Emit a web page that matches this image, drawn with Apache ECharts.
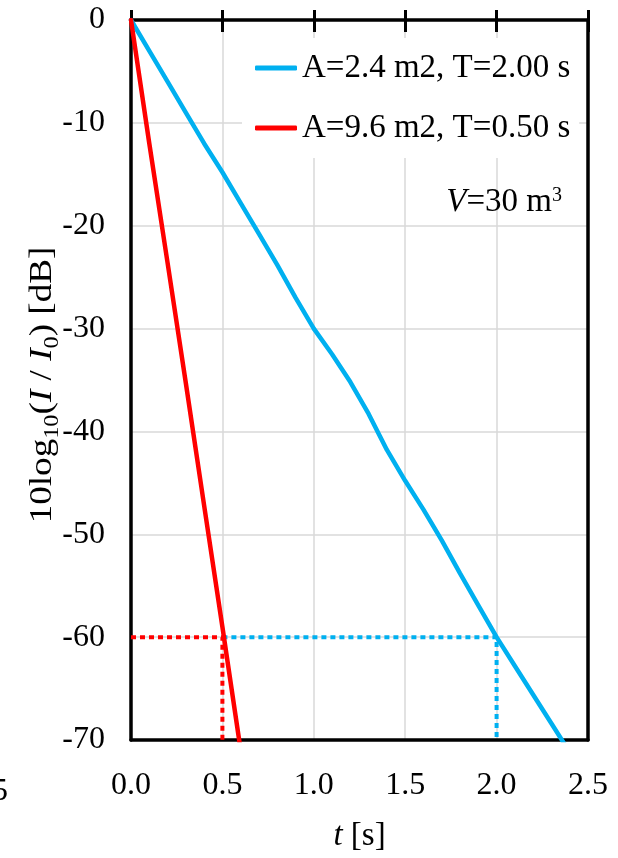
<!DOCTYPE html>
<html>
<head>
<meta charset="utf-8">
<script src="https://cdn.jsdelivr.net/npm/echarts@6/dist/echarts.min.js"></script>
<style>
html,body{margin:0;padding:0;background:#fff;}
#chart{width:618px;height:858px;}
</style>
</head>
<body>
<div id="chart"></div>
<script>
// ---- data ----
const seriesNames = ['A=2.4 m2, T=2.00 s', 'A=9.6 m2, T=0.50 s'];
const tBlue = [0, 0.1, 0.2, 0.3, 0.4, 0.5, 0.6, 0.7, 0.8, 0.9, 1.0, 1.1, 1.2, 1.3, 1.4, 1.5, 1.6, 1.7, 1.8, 1.9, 2.0, 2.1, 2.2, 2.3, 2.4];
const levelBlue = [0, -3.0, -6.0, -9.0, -12.0, -14.8, -17.8, -20.8, -23.8, -27.0, -30.0, -32.5, -35.2, -38.3, -41.8, -44.8, -47.6, -50.6, -53.8, -56.9, -60.0, -62.8, -65.6, -68.4, -71.2];
const tRed = [0, 0.1, 0.2, 0.3, 0.4, 0.5, 0.6];
const levelRed = [0, -12.0, -23.6, -35.3, -47.2, -59.0, -71.0];
const guideRed = [[0, -60], [0.5, -60], [0.5, -70]];
const guideBlue = [[0.5, -60], [2.0, -60], [2.0, -70]];
const xTicks = [0, 0.5, 1.0, 1.5, 2.0, 2.5];
const yTicks = [0, -10, -20, -30, -40, -50, -60, -70];

const FONT = '"Liberation Serif", "Times New Roman", serif';
const BLUE = '#00B0F0';
const RED = '#FF0000';
const GRID = '#d9d9d9';

const zip = (a, b) => a.map((v, i) => [v, b[i]]);

const chart = echarts.init(document.getElementById('chart'));

const xCommon = {
  type: 'value', min: xTicks[0], max: xTicks[xTicks.length - 1], interval: 0.5
};

chart.setOption({
  animation: false,
  backgroundColor: '#fff',
  grid: { left: 131, right: 30, top: 20, bottom: 112 },
  legend: {
    data: seriesNames.map(n => ({ name: n, icon: 'roundRect' })),
    orient: 'vertical',
    left: 242, top: 38,
    padding: [12, 9, 12, 13],
    backgroundColor: '#fff',
    itemGap: 24,
    itemWidth: 42,
    itemHeight: 5,
    textStyle: { fontFamily: FONT, fontSize: 33, color: '#000', lineHeight: 36 }
  },
  xAxis: [
    Object.assign({}, xCommon, {
      position: 'bottom',
      axisLine: { show: true, onZero: false, lineStyle: { color: '#000', width: 3.5 } },
      axisTick: { show: false },
      axisLabel: {
        fontFamily: FONT, fontSize: 32, color: '#000', margin: 30,
        formatter: v => v.toFixed(1)
      },
      splitLine: { show: true, lineStyle: { color: GRID, width: 1.5 } },
      name: '{i|t}{n| [s]}',
      nameLocation: 'middle',
      nameGap: 80,
      nameTextStyle: {
        rich: {
          i: { fontFamily: FONT, fontSize: 33, fontStyle: 'italic', color: '#000' },
          n: { fontFamily: FONT, fontSize: 33, color: '#000' }
        }
      }
    }),
    Object.assign({}, xCommon, {
      position: 'top',
      axisLine: { show: true, onZero: false, lineStyle: { color: '#000', width: 3.5 } },
      axisTick: { show: true, inside: true, length: 12, lineStyle: { color: '#000', width: 3 } },
      axisLabel: { show: false },
      splitLine: { show: false }
    }),
    Object.assign({}, xCommon, {
      position: 'top',
      axisLine: { show: false, onZero: false },
      axisTick: { show: true, inside: false, length: 10, lineStyle: { color: '#000', width: 3 } },
      axisLabel: { show: false },
      splitLine: { show: false }
    })
  ],
  yAxis: [
    {
      type: 'value', min: yTicks[yTicks.length - 1], max: yTicks[0], interval: 10,
      position: 'left',
      axisLine: { show: true, onZero: false, lineStyle: { color: '#000', width: 3.5 } },
      axisTick: { show: false },
      axisLabel: { fontFamily: FONT, fontSize: 32, color: '#000', margin: 26 },
      splitLine: { show: true, lineStyle: { color: GRID, width: 1.5 } }
    },
    {
      type: 'value', min: -70, max: 0, interval: 10,
      position: 'right',
      axisLine: { show: true, onZero: false, lineStyle: { color: '#000', width: 3.5 } },
      axisTick: { show: false },
      axisLabel: { show: false },
      splitLine: { show: false }
    }
  ],
  graphic: [
    {
      type: 'text', x: 43, y: 385, rotation: Math.PI / 2, scaleX: 1.16, z: 100,
      style: {
        text: '{n|10log}{s|10}{n|(}{i|I}{n| / }{i|I}{s|0}{n|) [dB]}',
        align: 'center', verticalAlign: 'middle',
        rich: {
          n: { fontFamily: FONT, fontSize: 32, fill: '#000', lineHeight: 32, verticalAlign: 'top' },
          i: { fontFamily: FONT, fontSize: 32, fontStyle: 'italic', fill: '#000', lineHeight: 32, verticalAlign: 'top' },
          s: { fontFamily: FONT, fontSize: 21, fill: '#000', lineHeight: 21, padding: [15, 0, 0, 0], verticalAlign: 'top' }
        }
      }
    },
    {
      type: 'text', right: 56, top: 186, z: 100,
      style: {
        text: '{i|V}{n|=30 m}{p|3}',
        rich: {
          i: { fontFamily: FONT, fontSize: 33, fontStyle: 'italic', fill: '#000', lineHeight: 33, verticalAlign: 'bottom' },
          n: { fontFamily: FONT, fontSize: 33, fill: '#000', lineHeight: 33, verticalAlign: 'bottom' },
          p: { fontFamily: FONT, fontSize: 20, fill: '#000', lineHeight: 20, padding: [0, 0, 13, 0], verticalAlign: 'bottom' }
        }
      }
    },
    {
      type: 'text', x: 8, y: 792, z: 100,
      style: { text: '0.5', fontFamily: FONT, fontSize: 32, fill: '#000', align: 'right', verticalAlign: 'middle' }
    }
  ],
  series: [
    {
      name: 'guideRed', type: 'line', data: guideRed, showSymbol: false, symbol: 'none', z: 2,
      lineStyle: { color: RED, width: 4, type: [5, 4], cap: 'butt' }, silent: true
    },
    {
      name: 'guideBlue', type: 'line', data: guideBlue, showSymbol: false, symbol: 'none', z: 2,
      lineStyle: { color: BLUE, width: 4, type: [5, 4], cap: 'butt' }, silent: true
    },
    {
      name: seriesNames[0], type: 'line', data: zip(tBlue, levelBlue), symbol: 'none', z: 3,
      itemStyle: { color: BLUE },
      lineStyle: { color: BLUE, width: 4.5, cap: 'round' }
    },
    {
      name: seriesNames[1], type: 'line', data: zip(tRed, levelRed), symbol: 'none', z: 4,
      itemStyle: { color: RED },
      lineStyle: { color: RED, width: 4.5, cap: 'round' }
    }
  ]
});
</script>
</body>
</html>
